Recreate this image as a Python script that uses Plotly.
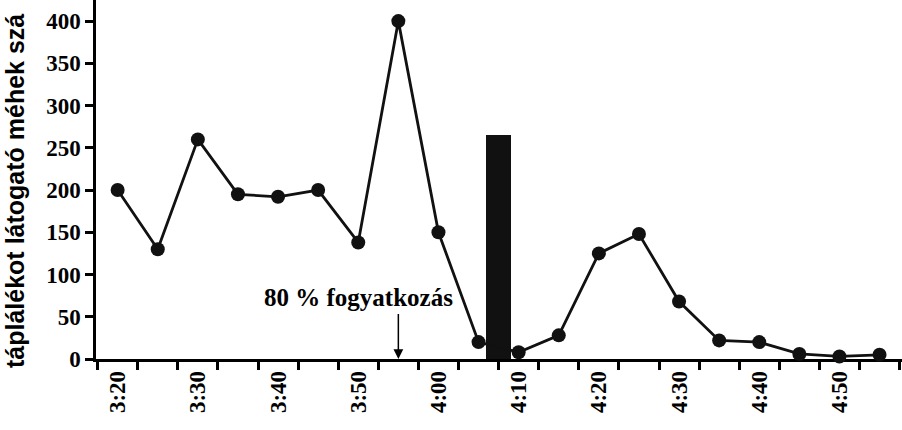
import plotly.graph_objects as go

times = ["3:20", "3:25", "3:30", "3:35", "3:40", "3:45", "3:50", "3:55", "4:00", "4:05",
         "4:10", "4:15", "4:20", "4:25", "4:30", "4:35", "4:40", "4:45", "4:50", "4:55"]
visitors = [200, 130, 260, 195, 192, 200, 138, 400, 150, 20,
            8, 28, 125, 148, 68, 22, 20, 6, 3, 5]
tick_labels = ["3:20", "3:30", "3:40", "3:50", "4:00", "4:10", "4:20", "4:30", "4:40", "4:50"]
bar_minute = [47.5]          # minutes after 3:20 (about 4:07.5)
bar_value = [265]
bar_width_min = 3.1
event_time = "3:55"
event_label = "80 % fogyatkozás"
event_label_time = "3:50"
event_label_value = 73
y_title = "táplálékot látogató méhek szá"


def to_min(t):
    h, m = t.split(":")
    return (int(h) - 3) * 60 + int(m) - 20


xs = [to_min(t) for t in times]
tickvals = [to_min(t) for t in tick_labels]

tickfont = dict(family="Liberation Serif", size=23, color="black", weight="bold")
annfont = dict(family="Liberation Serif", size=25, color="black", weight="bold")

fig = go.Figure()
fig.add_trace(go.Bar(x=bar_minute, y=bar_value, width=bar_width_min,
                     marker=dict(color="#111111", line=dict(width=0)), showlegend=False))
fig.add_trace(go.Scatter(x=xs, y=visitors, mode="lines+markers",
                         line=dict(color="#111111", width=2.8),
                         marker=dict(color="#111111", size=14),
                         cliponaxis=False, showlegend=False))

fig.add_annotation(x=to_min(event_time), y=0, ax=to_min(event_time), ay=55,
                   xref="x", yref="y", axref="x", ayref="y",
                   showarrow=True, arrowhead=2, arrowsize=1.3, arrowwidth=1.5, arrowcolor="black",
                   text="")
fig.add_annotation(x=to_min(event_label_time), y=event_label_value, xref="x", yref="y",
                   text=event_label, showarrow=False, font=annfont)
fig.add_annotation(x=(15 - 96) / 806, y=-11 / 359, xref="paper", yref="paper", text=y_title,
                   textangle=-90, showarrow=False, xanchor="center", yanchor="bottom",
                   font=dict(family="Liberation Sans", size=25, color="black", weight="bold"))

fig.update_layout(
    width=902, height=430,
    margin=dict(l=96, r=0, t=0, b=71),
    paper_bgcolor="white", plot_bgcolor="white",
    bargap=0,
)

fig.update_xaxes(range=[-2.7, 97.8], tickmode="array", tickvals=tickvals, ticktext=tick_labels,
                 tickangle=-90, ticks="", tickfont=tickfont, showgrid=False, zeroline=False,
                 showline=True, linecolor="black", linewidth=2.5, layer="below traces",
                 minor=dict(ticks="outside", ticklen=8, tickwidth=2.5, tickcolor="black",
                            tick0=-2.5, dtick=5, showgrid=False))
fig.update_yaxes(range=[0, 425], tickmode="array", tickvals=list(range(0, 401, 50)),
                 ticks="outside", ticklen=8, tickwidth=2.5, tickcolor="black", tickfont=tickfont,
                 showgrid=False, zeroline=False, showline=True, linecolor="black", linewidth=2.5,
                 layer="below traces")

fig.write_html("out.html", config={"displayModeBar": False},
               post_script="document.body.style.margin='0';")
